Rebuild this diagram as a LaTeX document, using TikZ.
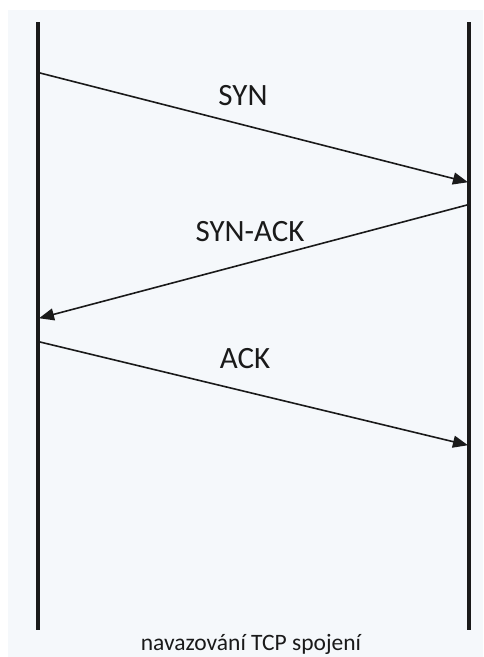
\documentclass[tikz,border=0pt]{standalone}
\usepackage{fontspec}
\setmainfont{Carlito}
\usetikzlibrary{arrows.meta}
\definecolor{paper}{HTML}{F5F8FB}
\definecolor{ink}{HTML}{1A1A1A}

\begin{document}
\begin{tikzpicture}[
  x=1pt, y=-1pt,
  lifeline/.style={line width=4pt, ink},
  msg/.style={-{Triangle[length=15pt, width=12pt]}, line width=1.6pt, ink, shorten >=-1pt},
  lbl/.style={font=\fontsize{31}{34}\selectfont, text=ink, inner sep=0pt},
  captext/.style={font=\fontsize{23.5}{26}\selectfont, text=ink, inner sep=0pt, anchor=base}
]
\useasboundingbox (0,0) rectangle (483,657);
\fill[paper] (8,10) rectangle (483,657);

% the two endpoints
\coordinate (ltop) at (38,22);
\coordinate (lbot) at (38,630);
\coordinate (rtop) at (469,22);
\coordinate (rbot) at (469,630);
\draw[lifeline] (ltop) -- (lbot);
\draw[lifeline] (rtop) -- (rbot);

% handshake messages
\coordinate (syn1) at (40,73);
\coordinate (syn2) at (467,182);
\coordinate (sa1) at (467,205);
\coordinate (sa2) at (40,318);
\coordinate (ack1) at (40,342);
\coordinate (ack2) at (467,445);
\draw[msg] (syn1) -- (syn2);
\draw[msg] (sa1) -- (sa2);
\draw[msg] (ack1) -- (ack2);

\node[lbl] (synlbl) at (243,96) {SYN};
\node[lbl] (salbl) at (250,232) {SYN-ACK};
\node[lbl] (acklbl) at (245,359) {ACK};

\node[captext] (caption) at (251,650) {navazování TCP spojení};
\end{tikzpicture}
\end{document}
